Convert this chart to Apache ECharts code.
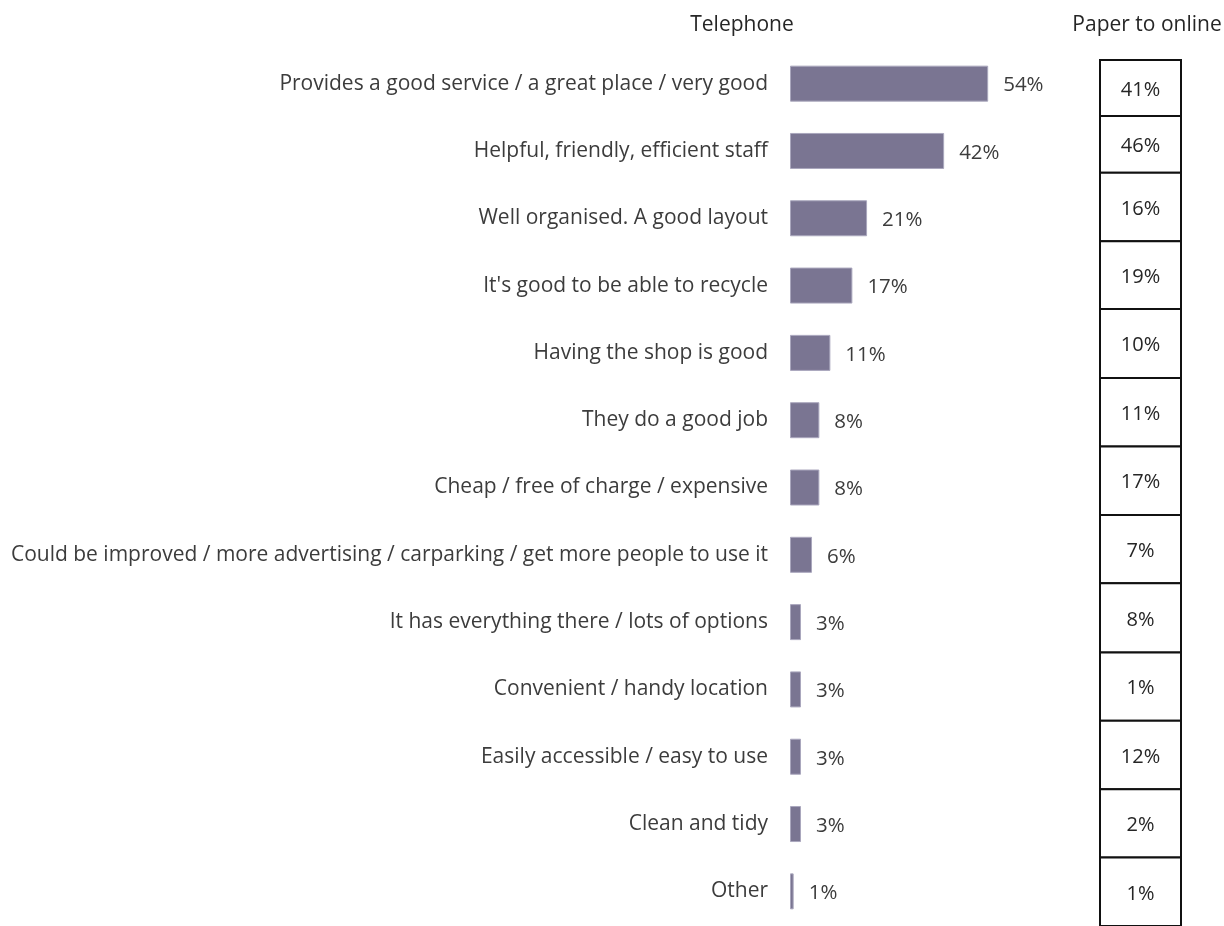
<!DOCTYPE html>
<html>
<head>
<meta charset="utf-8">
<title>Positive comments</title>
<script src="https://cdn.jsdelivr.net/npm/echarts@6/dist/echarts.min.js"></script>
<style>
  html, body { margin: 0; padding: 0; background: #ffffff; }
  #chart { width: 1224px; height: 926px; }
</style>
</head>
<body>
<div id="chart"></div>
<script>
// Comment themes, top to bottom
const categories = [
  'Provides a good service / a great place / very good',
  'Helpful, friendly, efficient staff',
  'Well organised. A good layout',
  "It's good to be able to recycle",
  'Having the shop is good',
  'They do a good job',
  'Cheap / free of charge / expensive',
  'Could be improved / more advertising / carparking / get more people to use it',
  'It has everything there / lots of options',
  'Convenient / handy location',
  'Easily accessible / easy to use',
  'Clean and tidy',
  'Other'
];

// Share of respondents (%) – telephone survey
const telephone = [54, 42, 21, 17, 11, 8, 8, 6, 3, 3, 3, 3, 1];

// Share of respondents (%) – paper to online survey
const paperToOnline = [41, 46, 16, 19, 10, 11, 17, 7, 8, 1, 12, 2, 1];

// Relative heights of the table rows (the first two rows are shorter)
const tableRowWeights = [0.82, 0.83, 1, 0.99, 1.01, 1, 1, 1, 1.01, 1, 1, 1, 1];

const FONT = '"Open Sans", "Noto Sans", sans-serif';
const TEXT = '#3c3c3c';

// Build [start, end, value] rows for the table cells
const tableRows = [];
let edge = 0;
paperToOnline.forEach(function (v, i) {
  tableRows.push([edge, edge + tableRowWeights[i], v]);
  edge += tableRowWeights[i];
});
const tableTotal = edge;

const chart = echarts.init(document.getElementById('chart'), null, { renderer: 'canvas' });

chart.setOption({
  animation: false,
  backgroundColor: '#ffffff',
  title: [
    {
      text: 'Telephone', left: 737, top: 10, textAlign: 'center',
      textStyle: { fontFamily: FONT, fontSize: 21, fontWeight: 'normal', color: '#262626' }
    },
    {
      text: 'Paper to online', left: 1142, top: 10, textAlign: 'center',
      textStyle: { fontFamily: FONT, fontSize: 21, fontWeight: 'normal', color: '#262626' }
    }
  ],
  grid: [
    { left: 790, width: 367, top: 50, height: 875 },
    { left: 1100, width: 81, top: 60, height: 872 }
  ],
  xAxis: [
    { gridIndex: 0, type: 'value', min: 0, max: 100, show: false },
    { gridIndex: 1, type: 'value', min: 0, max: 1, show: false }
  ],
  yAxis: [
    {
      gridIndex: 0, type: 'category', data: categories, inverse: true,
      axisLine: { show: false }, axisTick: { show: false },
      axisLabel: { fontFamily: FONT, fontSize: 21, color: TEXT, margin: 22, padding: [6, 0, 0, 0] }
    },
    { gridIndex: 1, type: 'value', min: 0, max: tableTotal, inverse: true, show: false }
  ],
  series: [
    {
      name: 'Telephone',
      type: 'bar',
      xAxisIndex: 0, yAxisIndex: 0,
      data: telephone,
      barWidth: 36,
      itemStyle: { color: '#7a7592', borderColor: '#aaa7bd', borderWidth: 1 },
      label: {
        show: true, position: 'right', distance: 15,
        formatter: '{c}%',
        fontFamily: FONT, fontSize: 20.5, color: TEXT,
        offset: [0, 2]
      }
    },
    {
      name: 'Paper to online',
      type: 'custom',
      xAxisIndex: 1, yAxisIndex: 1,
      data: tableRows,
      renderItem: function (params, api) {
        const p0 = api.coord([0, api.value(0)]);
        const p1 = api.coord([1, api.value(1)]);
        return {
          type: 'group',
          children: [
            {
              type: 'rect',
              shape: { x: p0[0], y: p0[1], width: p1[0] - p0[0], height: p1[1] - p0[1] },
              style: { fill: '#ffffff', stroke: '#111111', lineWidth: 2 }
            },
            {
              type: 'text',
              style: {
                x: (p0[0] + p1[0]) / 2, y: (p0[1] + p1[1]) / 2 + 2,
                text: api.value(2) + '%',
                align: 'center', verticalAlign: 'middle',
                font: '20px ' + FONT, fill: '#262626'
              }
            }
          ]
        };
      }
    }
  ]
});
</script>
</body>
</html>
